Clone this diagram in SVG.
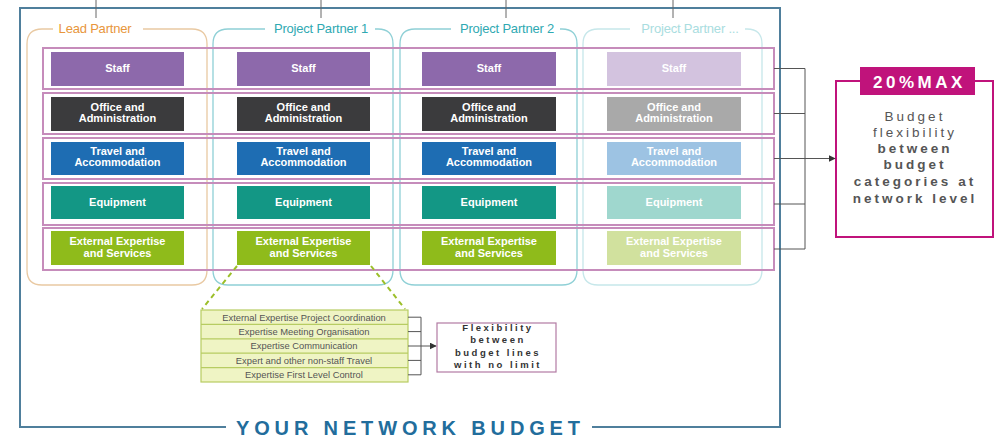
<svg xmlns="http://www.w3.org/2000/svg" width="998" height="438" viewBox="0 0 998 438">
  <style>
    .frame { fill: none; stroke: #4f7f9c; stroke-width: 2; }
    .tick { stroke: #666; stroke-width: 1; }
    .col { fill: none; stroke-width: 1.3; }
    .hdr { font-family: "Liberation Sans", Arial, sans-serif; font-size: 13px; text-anchor: middle; letter-spacing: -0.2px; }
    .row { fill: none; stroke: #c68cbb; stroke-width: 2; }
    .cell { font-family: "Liberation Sans", Arial, sans-serif; font-size: 11px; font-weight: bold; fill: #fff; text-anchor: middle; }
    .conn { fill: none; stroke: #555; stroke-width: 1; }
    .line { font-family: "Liberation Sans", Arial, sans-serif; font-size: 9.4px; fill: #555; text-anchor: middle; }
    .flex { font-family: "Liberation Sans", Arial, sans-serif; font-size: 9.5px; font-weight: bold; fill: #333; text-anchor: middle; letter-spacing: 2.5px; }
    .note { font-family: "Liberation Sans", Arial, sans-serif; font-size: 13.5px; fill: #555; text-anchor: middle; letter-spacing: 3px; }
    .dash { fill: none; stroke: #9cbf2a; stroke-width: 2; stroke-dasharray: 5 4; }
  </style>
  <defs>
    <marker id="arrow" viewBox="0 0 10 10" refX="9" refY="5" markerWidth="7" markerHeight="7" orient="auto" markerUnits="userSpaceOnUse">
      <path d="M0,0 L10,5 L0,10 z" fill="#333"/>
    </marker>
  </defs>

  <rect width="998" height="438" fill="#fff"/>

  <!-- outer network frame with title gap -->
  <g id="network-frame">
    <path class="frame" d="M226,427 L20,427 L20,8 L780,8 L780,427 L592,427"/>
    <line class="tick" x1="96" y1="0" x2="96" y2="18"/>
    <line class="tick" x1="321" y1="0" x2="321" y2="18"/>
    <line class="tick" x1="506" y1="0" x2="506" y2="18"/>
    <line class="tick" x1="673" y1="0" x2="673" y2="18"/>
    <text x="236" y="434.5" textLength="344" lengthAdjust="spacing" font-family="Liberation Sans, Arial, sans-serif" font-size="20" font-weight="bold" fill="#226d9c">YOUR NETWORK BUDGET</text>
  </g>

  <!-- partner columns -->
  <g id="lead-partner">
    <path class="col" stroke="#e9c9a2" d="M53,29 L42,29 Q27,29 27,44 L27,270 Q27,285 42,285 L192,285 Q207,285 207,270 L207,44 Q207,29 192,29 L143,29"/>
    <text class="hdr" x="95" y="33" fill="#e8963c">Lead Partner</text>
  </g>
  <g id="project-partner-1">
    <path class="col" stroke="#8fd0d6" d="M265,29 L228,29 Q213,29 213,44 L213,270 Q213,285 228,285 L378,285 Q393,285 393,270 L393,44 Q393,29 378,29 L375,29"/>
    <text class="hdr" x="321" y="33" fill="#2fa9b2">Project Partner 1</text>
  </g>
  <g id="project-partner-2">
    <path class="col" stroke="#8fd0d6" d="M451,29 L415,29 Q400,29 400,44 L400,270 Q400,285 415,285 L562,285 Q577,285 577,270 L577,44 Q577,29 562,29 L560,29"/>
    <text class="hdr" x="507" y="33" fill="#2fa9b2">Project Partner 2</text>
  </g>
  <g id="project-partner-more">
    <path class="col" stroke="#c6e7ea" d="M630,29 L598,29 Q583,29 583,44 L583,270 Q583,285 598,285 L747,285 Q762,285 762,270 L762,44 Q762,29 747,29 L745,29"/>
    <text class="hdr" x="690" y="33" fill="#a9dde0">Project Partner ...</text>
  </g>

  <!-- budget category rows -->
  <g id="category-rows">
    <rect class="row" x="43" y="48" width="731" height="41"/>
    <rect class="row" x="43" y="93" width="731" height="41"/>
    <rect class="row" x="43" y="138" width="731" height="41"/>
    <rect class="row" x="43" y="183" width="731" height="42"/>
    <rect class="row" x="43" y="228" width="731" height="42"/>
  </g>

  <!-- category cells per partner -->
  <g id="cells-lead">
    <rect x="51" y="52" width="133" height="34" fill="#8d69ab"/>
    <text class="cell" x="117.5" y="72">Staff</text>
    <rect x="51" y="97" width="133" height="34" fill="#3b3b3d"/>
    <text class="cell" x="117.5" y="111">Office and</text>
    <text class="cell" x="117.5" y="122">Administration</text>
    <rect x="51" y="142" width="133" height="33" fill="#1e6db3"/>
    <text class="cell" x="117.5" y="155">Travel and</text>
    <text class="cell" x="117.5" y="166">Accommodation</text>
    <rect x="51" y="186" width="133" height="33" fill="#139785"/>
    <text class="cell" x="117.5" y="206">Equipment</text>
    <rect x="51" y="231" width="133" height="34" fill="#8fbb1b"/>
    <text class="cell" x="117.5" y="245">External Expertise</text>
    <text class="cell" x="117.5" y="257">and Services</text>
  </g>
  <g id="cells-pp1">
    <rect x="237" y="52" width="133" height="34" fill="#8d69ab"/>
    <text class="cell" x="303.5" y="72">Staff</text>
    <rect x="237" y="97" width="133" height="34" fill="#3b3b3d"/>
    <text class="cell" x="303.5" y="111">Office and</text>
    <text class="cell" x="303.5" y="122">Administration</text>
    <rect x="237" y="142" width="133" height="33" fill="#1e6db3"/>
    <text class="cell" x="303.5" y="155">Travel and</text>
    <text class="cell" x="303.5" y="166">Accommodation</text>
    <rect x="237" y="186" width="133" height="33" fill="#139785"/>
    <text class="cell" x="303.5" y="206">Equipment</text>
    <rect x="237" y="231" width="133" height="34" fill="#8fbb1b"/>
    <text class="cell" x="303.5" y="245">External Expertise</text>
    <text class="cell" x="303.5" y="257">and Services</text>
  </g>
  <g id="cells-pp2">
    <rect x="422" y="52" width="134" height="34" fill="#8d69ab"/>
    <text class="cell" x="489" y="72">Staff</text>
    <rect x="422" y="97" width="134" height="34" fill="#3b3b3d"/>
    <text class="cell" x="489" y="111">Office and</text>
    <text class="cell" x="489" y="122">Administration</text>
    <rect x="422" y="142" width="134" height="33" fill="#1e6db3"/>
    <text class="cell" x="489" y="155">Travel and</text>
    <text class="cell" x="489" y="166">Accommodation</text>
    <rect x="422" y="186" width="134" height="33" fill="#139785"/>
    <text class="cell" x="489" y="206">Equipment</text>
    <rect x="422" y="231" width="134" height="34" fill="#8fbb1b"/>
    <text class="cell" x="489" y="245">External Expertise</text>
    <text class="cell" x="489" y="257">and Services</text>
  </g>
  <g id="cells-more">
    <rect x="607" y="52" width="134" height="34" fill="#d3c3df"/>
    <text class="cell" x="674" y="72">Staff</text>
    <rect x="607" y="97" width="134" height="34" fill="#a9a9a9"/>
    <text class="cell" x="674" y="111">Office and</text>
    <text class="cell" x="674" y="122">Administration</text>
    <rect x="607" y="142" width="134" height="33" fill="#9dc3e3"/>
    <text class="cell" x="674" y="155">Travel and</text>
    <text class="cell" x="674" y="166">Accommodation</text>
    <rect x="607" y="186" width="134" height="33" fill="#9fd7ce"/>
    <text class="cell" x="674" y="206">Equipment</text>
    <rect x="607" y="231" width="134" height="34" fill="#d1e19e"/>
    <text class="cell" x="674" y="245">External Expertise</text>
    <text class="cell" x="674" y="257">and Services</text>
  </g>

  <!-- external expertise budget lines -->
  <g id="expertise-lines">
    <rect x="201" y="310" width="207" height="72" fill="#eff4c4" stroke="#b7cc62" stroke-width="1.2"/>
    <line x1="201" y1="324.4" x2="408" y2="324.4" stroke="#b7cc62" stroke-width="1.2"/>
    <line x1="201" y1="338.8" x2="408" y2="338.8" stroke="#b7cc62" stroke-width="1.2"/>
    <line x1="201" y1="353.2" x2="408" y2="353.2" stroke="#b7cc62" stroke-width="1.2"/>
    <line x1="201" y1="367.6" x2="408" y2="367.6" stroke="#b7cc62" stroke-width="1.2"/>
    <text class="line" x="304" y="320.5">External Expertise Project Coordination</text>
    <text class="line" x="304" y="334.9">Expertise Meeting Organisation</text>
    <text class="line" x="304" y="349.3">Expertise Communication</text>
    <text class="line" x="304" y="363.7">Expert and other non-staff  Travel</text>
    <text class="line" x="304" y="378.1">Expertise First Level Control</text>
  </g>

  <!-- 20% max box -->
  <g id="network-flexibility">
    <rect x="836" y="81" width="157" height="156" fill="#fff" stroke="#c0137b" stroke-width="2"/>
    <rect x="860" y="67" width="115" height="28" fill="#c0137b"/>
    <text x="919.5" y="88" text-anchor="middle" font-family="Liberation Sans, Arial, sans-serif" font-size="17" font-weight="bold" fill="#fff" letter-spacing="3.5">20%MAX</text>
    <text class="note" x="915" y="121" fill="#666">Budget</text>
    <text class="note" x="915" y="137" fill="#666">flexibility</text>
    <text class="note" x="915" y="153" font-weight="bold">between</text>
    <text class="note" x="915" y="169" font-weight="bold">budget</text>
    <text class="note" x="915" y="186" font-weight="bold">categories at</text>
    <text class="note" x="915" y="203" font-weight="bold">network level</text>
  </g>

  <!-- budget line flexibility box -->
  <g id="line-flexibility">
    <rect x="437" y="323" width="119" height="49" fill="#fff" stroke="#b27ba3" stroke-width="1.2"/>
    <text class="flex" x="498" y="331">Flexibility</text>
    <text class="flex" x="498" y="343">between</text>
    <text class="flex" x="498" y="356">budget lines</text>
    <text class="flex" x="498" y="368">with no limit</text>
  </g>

  <!-- connectors -->
  <g id="connectors">
    <path class="conn" d="M774,68.5 H805 M774,113.5 H805 M774,158.5 H805 M774,204 H805 M774,249 H805 M805,68.5 V249"/>
    <line class="conn" x1="805" y1="158.5" x2="835" y2="158.5" marker-end="url(#arrow)"/>
    <path class="conn" d="M408,317.2 H421 M408,331.6 H421 M408,346 H421 M408,360.4 H421 M408,374.8 H421 M421,317.2 V374.8"/>
    <line class="conn" x1="421" y1="346" x2="436" y2="346" marker-end="url(#arrow)"/>
    <line class="dash" x1="237" y1="266" x2="202" y2="309"/>
    <line class="dash" x1="371" y1="266" x2="405" y2="309"/>
  </g>
</svg>
